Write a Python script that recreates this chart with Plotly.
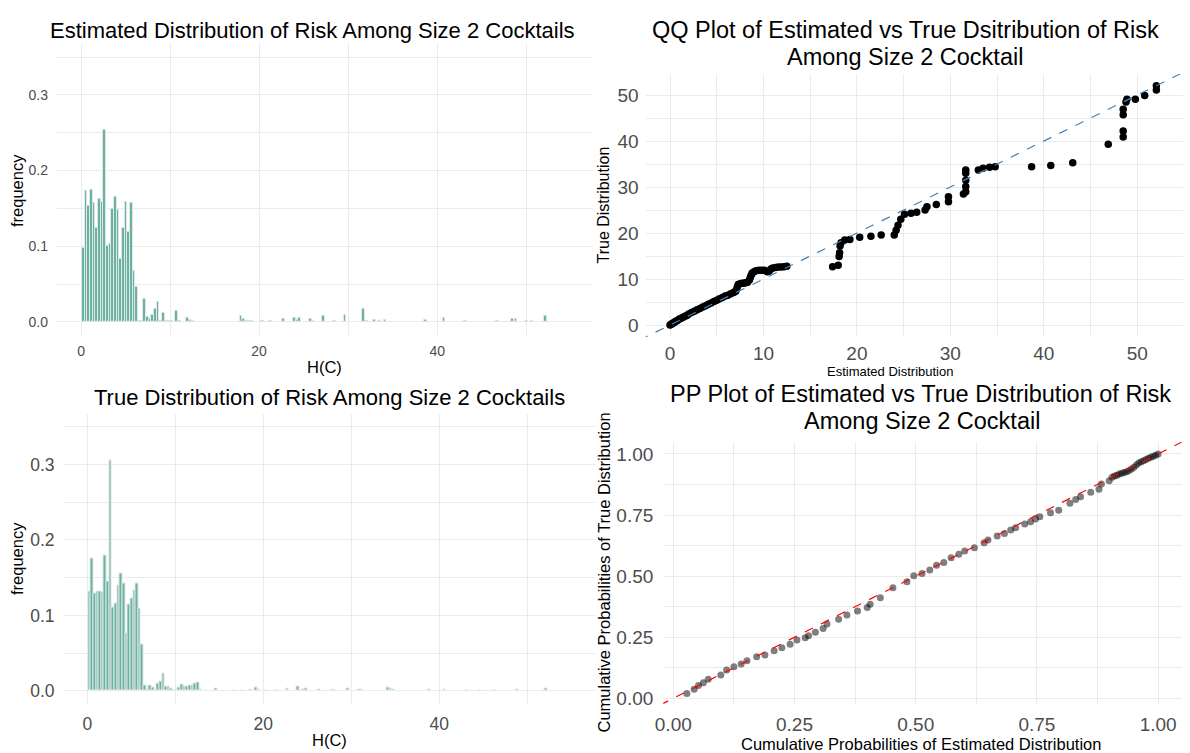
import plotly.graph_objects as go

W, H = 1190, 753

# ---------------- data ----------------
# Estimated distribution histogram (bin centers, density)
est_x = [0.25, 0.55, 0.85, 1.15, 1.45, 1.75, 2.05, 2.35, 2.65, 2.95, 3.25, 3.55, 3.85, 4.15,
         4.45, 4.75, 5.05, 5.35, 5.65, 5.95, 6.25,
         6.55, 6.85, 7.15, 7.45, 7.75, 8.05, 8.35, 8.65, 8.95, 9.25, 9.55, 9.85, 10.15, 10.75,
         11.05, 11.95, 12.25, 12.55, 17.95, 18.25, 18.55, 18.85, 19.15, 20.35, 21.25, 22.75,
         23.95, 24.25, 24.55, 25.75, 26.05, 27.25, 28.45, 29.65, 31.75, 32.05, 32.95, 33.55,
         34.15, 38.65, 40.75, 43.15, 46.75, 48.45, 48.85, 50.05, 50.65, 52.15]
est_freq = [0.098, 0.173, 0.154, 0.174, 0.157, 0.124, 0.163, 0.159, 0.254, 0.101, 0.103, 0.150,
            0.165, 0.148, 0.084, 0.125, 0.159, 0.119, 0.157, 0.068, 0.047,
            0.001, 0.001, 0.031, 0.007, 0.004, 0.009, 0.018, 0.027, 0.001, 0.012, 0.001, 0.001,
            0.001, 0.015, 0.002, 0.006, 0.003, 0.001, 0.008, 0.004, 0.001, 0.001, 0.001, 0.001,
            0.001, 0.0045, 0.005, 0.003, 0.005, 0.004, 0.001, 0.008, 0.002, 0.0095, 0.018, 0.001,
            0.003, 0.002, 0.003, 0.003, 0.005, 0.001, 0.001, 0.004, 0.004, 0.001, 0.001, 0.008]

# True distribution histogram
true_x = [0.25, 0.55, 0.85, 1.15, 1.45, 1.75, 2.05, 2.35, 2.65, 2.95, 3.25, 3.55, 3.85, 4.15,
          4.45, 4.75, 5.05, 5.35, 5.65, 5.95, 6.25,
          6.55, 6.85, 7.15, 7.45, 7.75, 8.05, 8.35, 8.65, 8.95, 9.25, 9.55, 9.85, 10.45, 10.75,
          11.05, 11.35, 11.65, 11.95, 12.25, 12.55, 12.85, 14.65, 16.75, 17.65, 18.55, 19.15,
          19.45, 20.35, 21.55, 22.75, 23.95, 24.55, 24.85, 26.35, 27.85, 28.15, 29.65, 30.85,
          31.15, 34.15, 34.45, 34.75, 38.8, 40.6, 43.15, 44.65, 46.3, 48.85, 52.15]
true_freq = [0.132, 0.176, 0.129, 0.132, 0.132, 0.131, 0.179, 0.145, 0.305, 0.110, 0.116, 0.140,
             0.156, 0.143, 0.076, 0.114, 0.122, 0.133, 0.142, 0.109, 0.061,
             0.007, 0.002, 0.007, 0.004, 0.001, 0.010, 0.012, 0.023, 0.006, 0.0065, 0.003, 0.001,
             0.004, 0.008, 0.0066, 0.0066, 0.0075, 0.0075, 0.010, 0.011, 0.002, 0.003, 0.001,
             0.001, 0.002, 0.005, 0.002, 0.001, 0.001, 0.003, 0.006, 0.002, 0.003, 0.002, 0.002,
             0.001, 0.003, 0.002, 0.002, 0.004, 0.003, 0.002, 0.002, 0.002, 0.001, 0.001, 0.001,
             0.002, 0.003]

# QQ plot: estimated vs true quantiles
qq_est = [0, 0.1, 0.2, 0.3, 0.4, 0.5, 0.6, 0.8, 1.0, 1.2, 1.4, 1.6, 1.8, 2.0, 2.3, 2.6, 2.9,
          3.2, 3.5, 3.8, 4.1, 4.4, 4.7, 5.0, 5.3, 5.6, 5.9, 6.2, 6.5, 6.8, 7.0, 7.1, 7.2, 7.3,
          7.5, 7.7, 7.9, 8.1, 8.3, 8.5, 8.6, 8.7, 8.8, 9.0, 9.2, 9.5, 9.8, 10.1, 10.4, 10.6,
          10.8, 11.0, 11.3, 11.6, 11.9, 12.2, 12.5,
          17.4, 18.0, 18.1, 18.15, 18.2, 18.3, 18.7, 19.25, 20.3, 21.5, 22.6, 24.0, 24.2, 24.4,
          24.7, 25.1, 25.8, 26.4, 27.3, 27.5, 28.5, 29.8, 29.8, 31.4, 31.65, 31.65, 31.65,
          31.65, 31.65, 33.0, 33.5, 34.2, 34.8, 38.7, 40.75, 43.1, 46.9, 48.5, 48.5, 48.5,
          48.5, 48.8, 48.9, 49.8, 50.8, 52.05, 52.05]
qq_true = [0, 0.1, 0.3, 0.4, 0.5, 0.6, 0.8, 1.0, 1.3, 1.5, 1.7, 1.9, 2.1, 2.4, 2.7, 3.0, 3.3,
           3.6, 3.9, 4.2, 4.5, 4.8, 5.1, 5.4, 5.7, 6.0, 6.3, 6.5, 6.8, 7.1, 7.3, 7.6, 8.2, 8.8,
           9.0, 9.1, 9.1, 9.2, 9.3, 9.8, 10.4, 10.9, 11.3, 11.6, 11.8, 11.9, 11.9, 11.9, 11.6,
           11.7, 12.2, 12.4, 12.5, 12.6, 12.6, 12.7, 12.8,
           12.7, 13.0, 14.9, 15.7, 17.2, 17.9, 18.5, 18.6, 19.1, 19.3, 19.6, 19.6, 20.6, 21.7,
           23.0, 24.1, 24.3, 24.5, 25.0, 25.7, 26.2, 26.8, 27.9, 28.5, 29.0, 30.1, 31.5, 33.0,
           33.7, 33.7, 34.1, 34.3, 34.4, 34.4, 34.7, 35.3, 39.3, 40.9, 42.2, 45.7, 46.9, 48.5,
           49.1, 49.1, 49.9, 51.1, 52.0]

# PP plot: cumulative probabilities
pp_est = [0.028, 0.043, 0.052, 0.062, 0.072, 0.098, 0.110, 0.125, 0.140, 0.152, 0.172, 0.189,
          0.208, 0.224, 0.241, 0.255, 0.272, 0.279, 0.293, 0.309, 0.317, 0.341, 0.358, 0.380,
          0.400, 0.406, 0.427, 0.453, 0.482, 0.496, 0.513, 0.529, 0.543, 0.558, 0.573, 0.589,
          0.601, 0.621, 0.641, 0.649, 0.668, 0.683, 0.696, 0.706, 0.725, 0.737, 0.747, 0.756,
          0.778, 0.795, 0.818, 0.830, 0.840, 0.861, 0.878, 0.883, 0.899,
          0.905, 0.910, 0.915, 0.920, 0.925, 0.930, 0.935, 0.940, 0.945, 0.950, 0.955, 0.960,
          0.965, 0.970, 0.975, 0.980, 0.985, 0.990, 0.995, 1.000]
pp_true = [0.020, 0.037, 0.052, 0.064, 0.078, 0.095, 0.116, 0.129, 0.140, 0.154, 0.170, 0.177,
           0.195, 0.207, 0.221, 0.239, 0.248, 0.256, 0.270, 0.286, 0.304, 0.324, 0.341, 0.357,
           0.372, 0.385, 0.412, 0.453, 0.477, 0.502, 0.511, 0.525, 0.545, 0.556, 0.575, 0.590,
           0.603, 0.616, 0.637, 0.648, 0.664, 0.675, 0.689, 0.698, 0.713, 0.723, 0.734, 0.743,
           0.759, 0.770, 0.798, 0.814, 0.825, 0.843, 0.856, 0.877, 0.890,
           0.905, 0.910, 0.913, 0.918, 0.921, 0.924, 0.927, 0.932, 0.938, 0.946, 0.955, 0.963,
           0.968, 0.972, 0.977, 0.982, 0.987, 0.991, 0.995, 1.000]

ref_line = [-5, 60]

# ---------------- figure ----------------
FONT = "Liberation Sans, Arial, sans-serif"
TEAL = "#69b3a2"
GRID = "#ebebeb"
TICKC = "#4d4d4d"

fig = go.Figure()
fig.add_trace(go.Bar(x=est_x, y=est_freq, width=0.3, marker=dict(color=TEAL, line=dict(color="#e2e7e5", width=1)),
                     xaxis="x", yaxis="y", showlegend=False))
fig.add_trace(go.Bar(x=true_x, y=true_freq, width=0.3, marker=dict(color=TEAL, line=dict(color="#e2e7e5", width=1)),
                     xaxis="x3", yaxis="y3", showlegend=False))
fig.add_trace(go.Scatter(x=qq_est, y=qq_true, mode="markers", marker=dict(color="black", size=7.5),
                         xaxis="x2", yaxis="y2", showlegend=False))
fig.add_trace(go.Scatter(x=ref_line, y=ref_line, mode="lines", line=dict(color="#4682B4", width=1.2, dash="dash"),
                         xaxis="x2", yaxis="y2", showlegend=False))
fig.add_trace(go.Scatter(x=pp_est, y=pp_true, mode="markers", marker=dict(color="rgba(0,0,0,0.5)", size=7),
                         xaxis="x4", yaxis="y4", showlegend=False))
fig.add_trace(go.Scatter(x=ref_line, y=ref_line, mode="lines", line=dict(color="red", width=1.2, dash="dash"),
                         xaxis="x4", yaxis="y4", showlegend=False))


def ax(domain, rng, dtick, minor, fs, fmt=None, anchor=None, standoff=4):
    d = dict(domain=domain, range=rng, tick0=0, dtick=dtick, showgrid=True, gridcolor=GRID, gridwidth=1.3,
             zeroline=False, showline=False, ticks="", tickfont=dict(family=FONT, size=fs, color=TICKC),
             minor=dict(tick0=0, dtick=minor, showgrid=True, gridcolor=GRID, gridwidth=0.8),
             anchor=anchor, ticklabelstandoff=standoff, fixedrange=True, automargin=False)
    if fmt:
        d["tickformat"] = fmt
    return d


def xd(l, r):
    return [l / W, r / W]


def yd(top, bottom):
    return [1 - bottom / H, 1 - top / H]


fig.update_layout(
    width=W, height=H, margin=dict(l=0, r=0, t=0, b=0, autoexpand=False),
    paper_bgcolor="white", plot_bgcolor="white", bargap=0,
    xaxis=ax(xd(57, 593), [-2.7, 57.5], 20, 10, 14, anchor="y", standoff=6),
    yaxis=ax(yd(43.8, 335.2), [-0.0175, 0.3675], 0.1, 0.05, 14, ".1f", anchor="x", standoff=8),
    xaxis2=ax(xd(645.7, 1183), [-2.6, 54.9], 10, 5, 19, anchor="y2", standoff=3),
    yaxis2=ax(yd(73.9, 337), [-2.6, 54.6], 10, 5, 19, anchor="x2", standoff=6),
    xaxis3=ax(xd(63.5, 595), [-2.7, 57.7], 20, 10, 17.5, anchor="y3", standoff=7),
    yaxis3=ax(yd(413.5, 704.2), [-0.0175, 0.3675], 0.1, 0.05, 17.5, ".1f", anchor="x3", standoff=8),
    xaxis4=ax(xd(663.3, 1181.7), [-0.0206, 1.0486], 0.25, 0.125, 19, ".2f", anchor="y4", standoff=6),
    yaxis4=ax(yd(442, 705.4), [-0.029, 1.049], 0.25, 0.125, 19, ".2f", anchor="x4", standoff=9),
)

anns = []


def txt(x, y, s, size, color="black", angle=0):
    anns.append(dict(x=x / W, y=1 - y / H, xref="paper", yref="paper", text=s, showarrow=False,
                     font=dict(family=FONT, size=size, color=color), textangle=angle,
                     xanchor="center", yanchor="middle"))


txt(312, 31, "Estimated Distribution of Risk Among Size 2 Cocktails", 22)
txt(329, 397, "True Distribution of Risk Among Size 2 Cocktails", 22)
txt(905, 30, "QQ Plot of Estimated vs True Dsitribution of Risk", 23.5)
txt(905, 57, "Among Size 2 Cocktail", 23.5)
txt(920.5, 394, "PP Plot of Estimated vs True Distribution of Risk", 23.5)
txt(921.5, 421, "Among Size 2 Cocktail", 23.5)

AS = 16.5
txt(325, 367, "H(C)", AS)
txt(329, 740, "H(C)", AS)
txt(17, 191, "frequency", AS, angle=-90)
txt(17, 559, "frequency", AS, angle=-90)
txt(890, 371, "Estimated Distribution", 13)
txt(603.5, 205, "True Distribution", 16, angle=-90)
txt(921, 744, "Cumulative Probabilities of Estimated Distribution", AS)
txt(603.5, 573, "Cumulative Probabilities of True Distribution", AS, angle=-90)

fig.update_layout(annotations=anns)
fig.write_html("out.html")
